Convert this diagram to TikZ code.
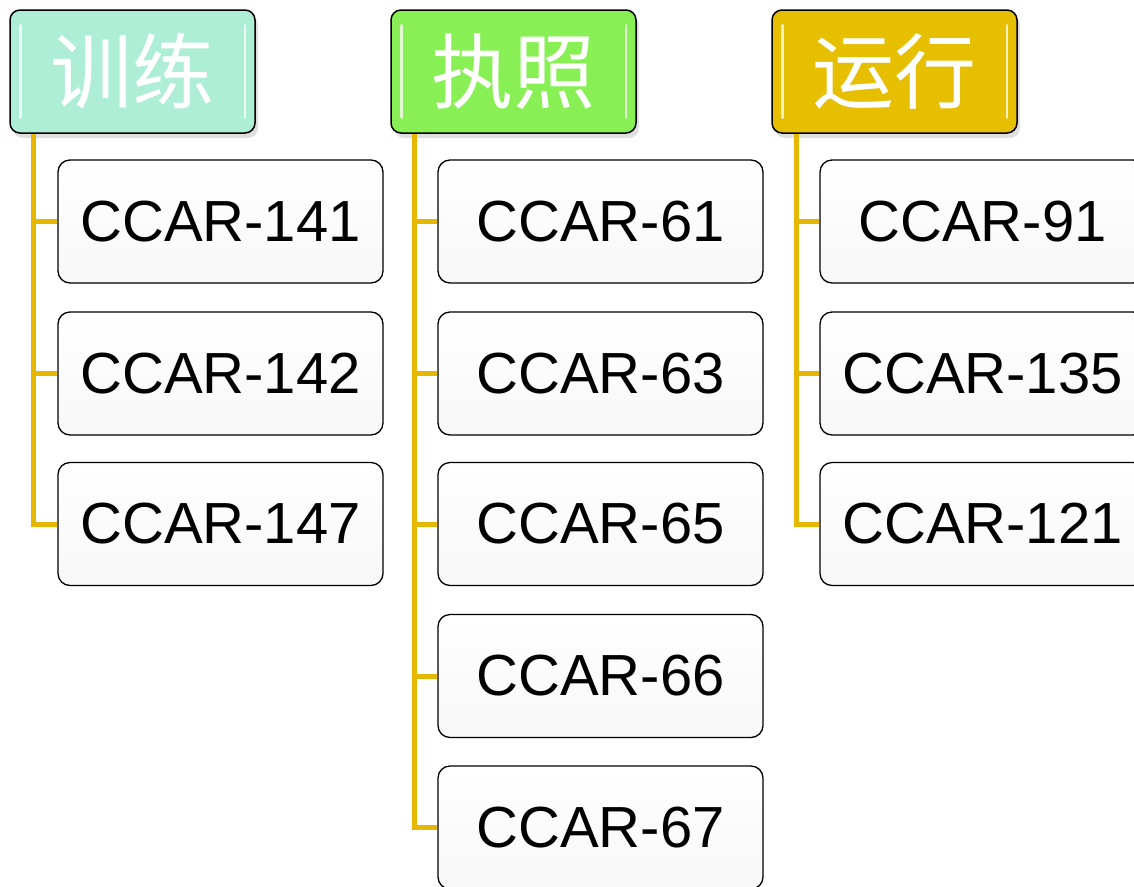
\documentclass[tikz,border=0pt]{standalone}
\usepackage{fontspec}
\setmainfont{Liberation Sans}
\newfontfamily\cjk{Noto Sans CJK SC}
\usetikzlibrary{calc,shadows}

\definecolor{mint}{HTML}{AFEED6}
\definecolor{leafgreen}{HTML}{88EF55}
\definecolor{goldfill}{HTML}{E6BF00}
\definecolor{branchgold}{HTML}{E5B700}

\begin{document}
\begin{tikzpicture}[
    x = 1pt, y = -1pt,
    header/.style = {
        draw = black,
        line width = 1.5pt,
        rounded corners = 10pt,
        minimum width = 245pt,
        minimum height = 123pt,
        inner sep = 0pt,
        text = white,
        font = \cjk\fontsize{82}{84}\selectfont,
        drop shadow = {shadow xshift = 3pt, shadow yshift = -5pt, opacity = 0.25}
    },
    regbox/.style = {
        draw = black,
        line width = 1.3pt,
        rounded corners = 12pt,
        minimum width = 325pt,
        minimum height = 123pt,
        inner sep = 0pt,
        top color = white,
        bottom color = gray!6,
        font = \fontsize{58}{60}\selectfont
    },
    branch/.style = {draw = branchgold, line width = 5pt},
    gloss/.style = {white, line width = 2.5pt, line cap = round, opacity = 0.75}
]
\useasboundingbox (0,0) rectangle (1134,886);

% Category headers
\node[header, fill = mint] (train) at (132.5, 71.5) {训练};
\node[header, fill = leafgreen] (license) at (513.5, 71.5) {执照};
\node[header, fill = goldfill] (operate) at (894.5, 71.5) {运行};

% Glossy highlights on the headers
\foreach \h in {train, license, operate} {
    \draw[gloss] ($(\h.north west) + (11, 16)$) -- ($(\h.south west) + (11, -16)$);
    \draw[gloss] ($(\h.north east) + (-11, 16)$) -- ($(\h.south east) + (-11, -16)$);
}

% Training regulations
\node[regbox] (r141) at (220.5, 221.5) {CCAR-141};
\node[regbox] (r142) at (220.5, 373.5) {CCAR-142};
\node[regbox] (r147) at (220.5, 524) {CCAR-147};

% Licensing regulations
\node[regbox] (r61) at (600.5, 221.5) {CCAR-61};
\node[regbox] (r63) at (600.5, 373.5) {CCAR-63};
\node[regbox] (r65) at (600.5, 524) {CCAR-65};
\node[regbox] (r66) at (600.5, 676) {CCAR-66};
\node[regbox] (r67) at (600.5, 827.5) {CCAR-67};

% Operation regulations
\node[regbox] (r91) at (982.5, 221.5) {CCAR-91};
\node[regbox] (r135) at (982.5, 373.5) {CCAR-135};
\node[regbox] (r121) at (982.5, 524) {CCAR-121};

% Branch connectors
\coordinate (trainroot) at ($(train.south west) + (24, 0)$);
\coordinate (licenseroot) at ($(license.south west) + (24, 0)$);
\coordinate (operateroot) at ($(operate.south west) + (25, 0)$);

\foreach \r in {r141, r142, r147}
    \draw[branch] (trainroot) |- (\r.west);
\foreach \r in {r61, r63, r65, r66, r67}
    \draw[branch] (licenseroot) |- (\r.west);
\foreach \r in {r91, r135, r121}
    \draw[branch] (operateroot) |- (\r.west);

\end{tikzpicture}
\end{document}
